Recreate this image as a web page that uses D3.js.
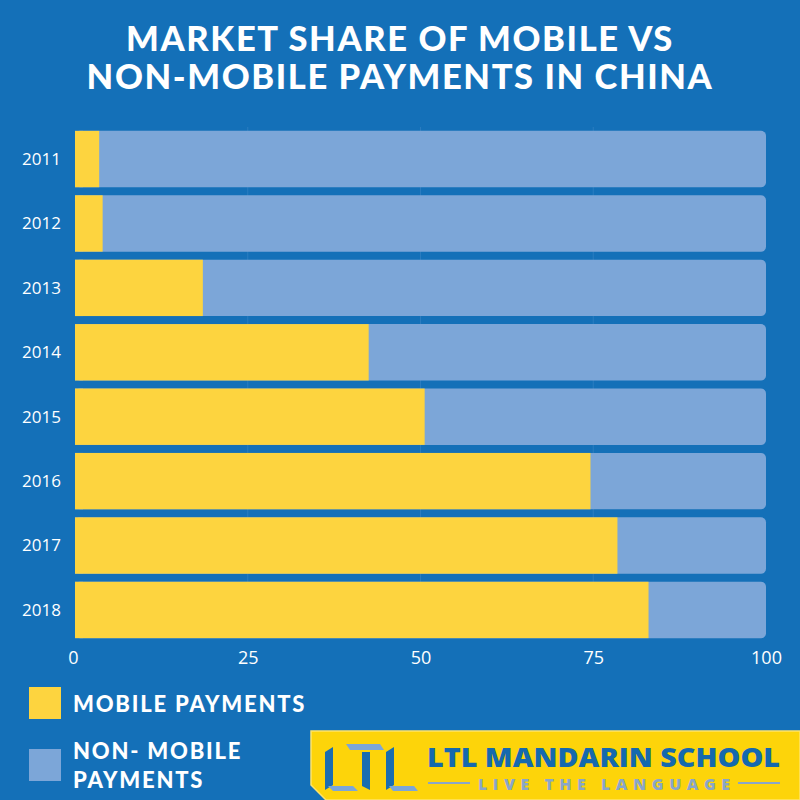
<!DOCTYPE html>
<html><head><meta charset="utf-8">
<script src="https://cdn.jsdelivr.net/npm/d3@7"></script>
<style>html,body{margin:0;padding:0;background:#1470b8;}svg{display:block;}</style>
</head><body>
<script>
const years = ["2011","2012","2013","2014","2015","2016","2017","2018"];
const mobile = [3.5, 4, 18.5, 42.5, 50.6, 74.6, 78.5, 83];
const nonMobile = mobile.map(v => 100 - v);
const xTicks = [0, 25, 50, 75, 100];
const titleLines = ["MARKET SHARE OF MOBILE VS", "NON-MOBILE PAYMENTS IN CHINA"];
const legendLabels = [["MOBILE PAYMENTS"], ["NON- MOBILE", "PAYMENTS"]];

const W = 800, H = 800;
const bg = "#1470b8", yellow = "#fdd43f", lightBlue = "#7ca6d8";
const svg = d3.select("body").append("svg").attr("width", W).attr("height", H);
svg.append("rect").attr("width", W).attr("height", H).attr("fill", bg);

// title
svg.append("g").selectAll("text").data(titleLines).join("text")
  .attr("x", 400).attr("y", (d, i) => 51 + i * 38)
  .attr("text-anchor", "middle").attr("fill", "#fff")
  .style("font-family", "Lato").style("font-weight", 900).style("font-size", "34.5px")
  .style("letter-spacing", "1.6px")
  .text(d => d);

const x = d3.scaleLinear().domain([0, 100]).range([75, 766]);
const y = d3.scaleBand().domain(years).range([127, 642]).paddingInner(0.125).paddingOuter(0.06);

// gridlines
svg.append("g").selectAll("line").data(xTicks.slice(1, 4)).join("line")
  .attr("x1", d => x(d)).attr("x2", d => x(d))
  .attr("y1", y.range()[0]).attr("y2", y.range()[1] - 4)
  .attr("stroke", "#2a7cc0").attr("stroke-width", 1);

const rows = svg.append("g").selectAll("g").data(years).join("g");
// non-mobile full bar with rounded right corners
rows.append("rect")
  .attr("x", x(0)).attr("y", d => y(d))
  .attr("width", x(100) - x(0)).attr("height", y.bandwidth())
  .attr("rx", 5).attr("fill", lightBlue);
rows.append("rect")
  .attr("x", x(0)).attr("y", d => y(d))
  .attr("width", 8).attr("height", y.bandwidth())
  .attr("fill", lightBlue);
// mobile
rows.append("rect")
  .attr("x", x(0)).attr("y", d => y(d))
  .attr("width", (d, i) => x(mobile[i]) - x(0)).attr("height", y.bandwidth())
  .attr("fill", yellow);

// y axis labels
const yAxis = svg.append("g").attr("transform", `translate(${x(0) - 14},0)`)
  .call(d3.axisLeft(y).tickSize(0).tickPadding(0));
yAxis.select(".domain").remove();
yAxis.selectAll("text").attr("fill", "#fff")
  .style("font-family", "Open Sans").style("font-size", "17px").attr("dy", "0.35em");

// x axis labels
const xAxis = svg.append("g").attr("transform", `translate(0,650)`)
  .call(d3.axisBottom(x).tickValues(xTicks).tickSize(0).tickPadding(0).tickFormat(d3.format("d")));
xAxis.select(".domain").remove();
xAxis.selectAll("text").attr("fill", "#fff").attr("dy", "0.75em")
  .style("font-family", "Open Sans").style("font-size", "18px");
xAxis.selectAll("text").filter(d => d === 0).attr("dx", "-2");

// legend
const legend = svg.append("g");
const legColors = [yellow, lightBlue];
const legY = [687, 749];
legendLabels.forEach((lines, i) => {
  legend.append("rect").attr("x", 29).attr("y", legY[i]).attr("width", 32).attr("height", 32).attr("fill", legColors[i]);
  lines.forEach((t, j) => {
    legend.append("text").attr("x", 73).attr("y", (lines.length === 1 ? 712 : 759 + j * 29))
      .attr("fill", "#fff").style("font-family", "Lato").style("font-weight", 900)
      .style("font-size", "22px").style("letter-spacing", "1.8px").text(t);
  });
});

// logo banner
const logo = svg.append("g");
logo.append("path").attr("d", "M311,731 L800,731 L800,800 L326,800 L311,785 Z")
  .attr("fill", "#fdd40a").attr("stroke", "#ffe36a").attr("stroke-width", 1.5);
// LTL mark
const dark = "#1a6db0", pale = "#7ca6d8";
logo.append("path").attr("d", "M325,752 L333,747 L333,785 L325,790 Z").attr("fill", dark);
logo.append("path").attr("d", "M328,786 L353,786 L358,791 L333,791 Z").attr("fill", pale);
logo.append("path").attr("d", "M346,744 L380,744 L384,750 L350,750 Z").attr("fill", pale);
logo.append("path").attr("d", "M362,752 L370,752 L370,790 L362,786 Z").attr("fill", dark);
logo.append("path").attr("d", "M386,752 L394,747 L394,785 L386,790 Z").attr("fill", dark);
logo.append("path").attr("d", "M389,786 L414,786 L418,791 L393,791 Z").attr("fill", pale);
logo.append("text").attr("x", 427).attr("y", 767).attr("fill", "#1569ae")
  .style("font-family", "Open Sans").style("font-weight", 800).style("font-size", "27px")
  .attr("textLength", 353).attr("lengthAdjust", "spacingAndGlyphs").text("LTL MANDARIN SCHOOL");
logo.append("line").attr("x1", 428).attr("x2", 470).attr("y1", 783).attr("y2", 783).attr("stroke", "#8aa6c8").attr("stroke-width", 2);
logo.append("line").attr("x1", 738).attr("x2", 780).attr("y1", 783).attr("y2", 783).attr("stroke", "#8aa6c8").attr("stroke-width", 2);
logo.append("text").attr("x", 604).attr("y", 790).attr("text-anchor", "middle").attr("fill", "#8aa6c8")
  .style("font-family", "Open Sans").style("font-weight", 800).style("font-size", "16px")
  .attr("textLength", 252).attr("lengthAdjust", "spacing").text("LIVE THE LANGUAGE");
</script>
</body></html>
